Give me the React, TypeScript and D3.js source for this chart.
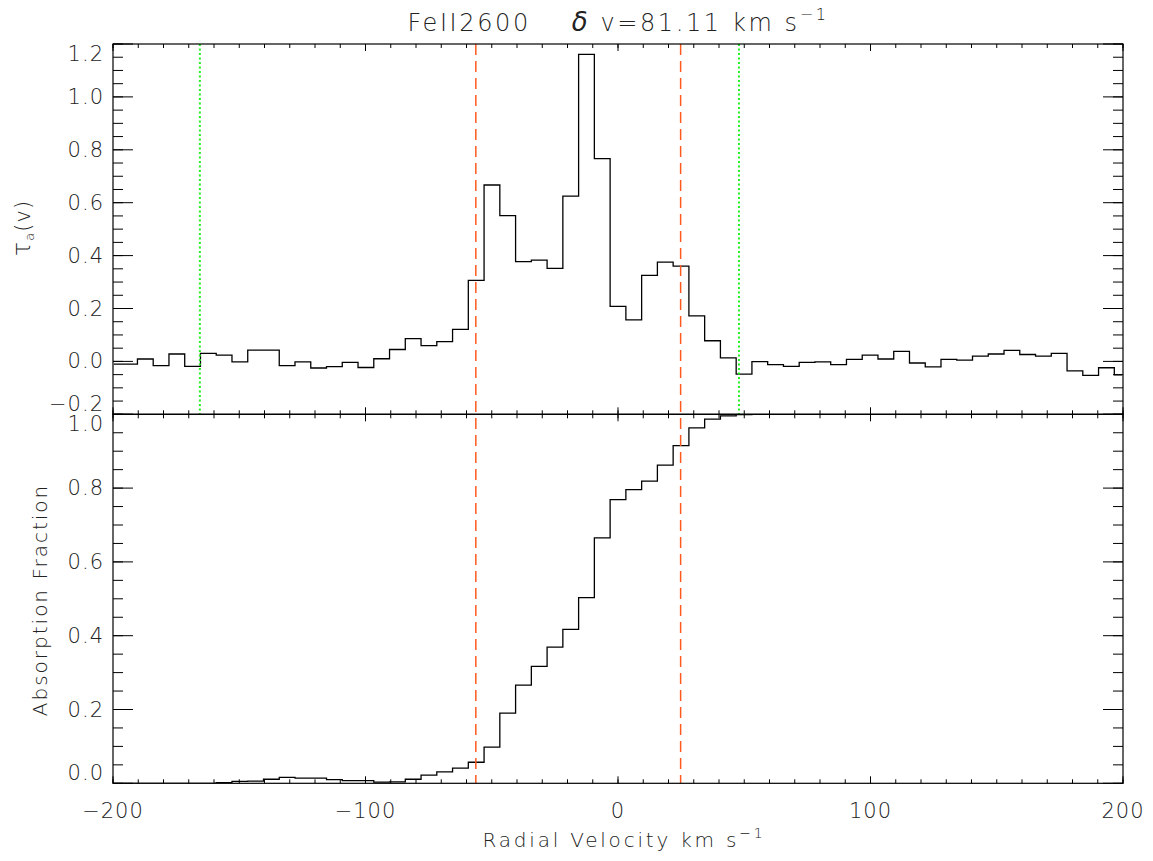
import React from "react";
import * as d3 from "d3";

// Velocity bin centres (km/s)
const velocity: number[] = [
  -199.68, -193.44, -187.2, -180.96, -174.72, -168.48, -162.24, -156.0, -149.76, -143.52,
  -137.28, -131.04, -124.8, -118.56, -112.32, -106.08, -99.84, -93.6, -87.36, -81.12,
  -74.88, -68.64, -62.4, -56.16, -49.92, -43.68, -37.44, -31.2, -24.96, -18.72,
  -12.48, -6.24, 0.0, 6.24, 12.48, 18.72, 24.96, 31.2, 37.44, 43.68,
  49.92, 56.16, 62.4, 68.64, 74.88, 81.12, 87.36, 93.6, 99.84, 106.08,
  112.32, 118.56, 124.8, 131.04, 137.28, 143.52, 149.76, 156.0, 162.24, 168.48,
  174.72, 180.96, 187.2, 193.44, 199.68,
];

// Apparent optical depth tau_a(v)
const tauValues: number[] = [
  -0.01, -0.01, 0.009, -0.016, 0.028, -0.019, 0.03, 0.024, -0.002, 0.043,
  0.043, -0.016, -0.002, -0.025, -0.02, -0.004, -0.023, 0.01, 0.045, 0.086,
  0.06, 0.075, 0.121, 0.306, 0.667, 0.551, 0.377, 0.383, 0.352, 0.625,
  1.161, 0.767, 0.208, 0.157, 0.325, 0.375, 0.36, 0.172, 0.078, 0.013,
  -0.048, -0.001, -0.012, -0.019, -0.004, -0.002, -0.012, 0.008, 0.024, 0.009,
  0.038, -0.006, -0.021, 0.008, 0.005, 0.02, 0.028, 0.042, 0.026, 0.02,
  0.03, -0.036, -0.053, -0.024, -0.051,
];

// Cumulative absorption fraction
const absFraction: number[] = [
  0, 0, 0, 0, 0, 0, 0, 0.002, 0.005, 0.006,
  0.011, 0.016, 0.014, 0.014, 0.01, 0.007, 0.007, 0.003, 0.004, 0.011,
  0.022, 0.031, 0.041, 0.057, 0.098, 0.19, 0.266, 0.317, 0.369, 0.417,
  0.503, 0.665, 0.769, 0.796, 0.819, 0.862, 0.915, 0.963, 0.987, 0.996,
  0.999, 1, 1, 1, 1, 1, 1, 1, 1, 1,
  1, 1, 1, 1, 1, 1, 1, 1, 1, 1,
  1, 1, 1, 1, 1,
];

const velLimits: number[] = [-56.31, 24.8]; // orange dashed
const intLimits: number[] = [-165.6, 47.9]; // green dotted

const xDomain: [number, number] = [-200, 200];
const topDomain: [number, number] = [-0.2, 1.2];
const botDomain: [number, number] = [0, 1];

const FONT = "'DejaVu Sans', 'Liberation Sans', sans-serif";
const TXT = "#222";

export default function App() {
  const W = 1153, H = 861;
  const left = 113, right = 1123, top = 44, mid = 414.3, bottom = 783.3;

  const x = d3.scaleLinear().domain(xDomain).range([left, right]);
  const yTop = d3.scaleLinear().domain(topDomain).range([mid, top]);
  const yBot = d3.scaleLinear().domain(botDomain).range([bottom, mid]);

  const pts = velocity.map((v, i) => ({ v, t: tauValues[i], a: absFraction[i] }));
  const lineTop = d3.line<any>().x(d => x(d.v)).y(d => yTop(d.t)).curve(d3.curveStep);
  const lineBot = d3.line<any>().x(d => x(d.v)).y(d => yBot(d.a)).curve(d3.curveStep);

  const xMajor = x.ticks(4);
  const xMinor = d3.range(-200, 200.001, 10);
  const fmt = d3.format(".1f");

  const yTicks = (scale: d3.ScaleLinear<number, number>, domain: [number, number], keyp: string) => {
    const major = d3.range(domain[0], domain[1] + 0.0001, 0.2);
    const minor = d3.range(domain[0], domain[1] + 0.0001, 0.05);
    const els: any[] = [];
    minor.forEach((m, i) => {
      const y = scale(m);
      els.push(<line key={keyp + "mnl" + i} x1={left} x2={left + 10} y1={y} y2={y} stroke="#000" strokeWidth={1} />);
      els.push(<line key={keyp + "mnr" + i} x1={right} x2={right - 10} y1={y} y2={y} stroke="#000" strokeWidth={1} />);
    });
    major.forEach((m, i) => {
      const y = scale(m);
      els.push(<line key={keyp + "mjl" + i} x1={left} x2={left + 20} y1={y} y2={y} stroke="#000" strokeWidth={1} />);
      els.push(<line key={keyp + "mjr" + i} x1={right} x2={right - 20} y1={y} y2={y} stroke="#000" strokeWidth={1} />);
      let dy = 0;
      if (i === major.length - 1) dy = 10;
      if (i === 0) dy = -10;
      els.push(
        <text key={keyp + "lab" + i} x={104} y={y + dy} textAnchor="end" dominantBaseline="central"
          fontFamily={FONT} fontSize={21} letterSpacing={1} fill={TXT} fontWeight={300}>
          {fmt(Math.abs(m) < 1e-9 ? 0 : m)}
        </text>
      );
    });
    return els;
  };

  const xTicks = (yEdge: number, dir: number, keyp: string) => {
    const els: any[] = [];
    xMinor.forEach((v, i) => {
      const xx = x(v);
      els.push(<line key={keyp + "mn" + i} x1={xx} x2={xx} y1={yEdge} y2={yEdge + dir * 4} stroke="#000" strokeWidth={1} />);
    });
    xMajor.forEach((v, i) => {
      const xx = x(v);
      els.push(<line key={keyp + "mj" + i} x1={xx} x2={xx} y1={yEdge} y2={yEdge + dir * 7} stroke="#000" strokeWidth={1} />);
    });
    return els;
  };

  return (
    <svg width={W} height={H} style={{ position: "absolute", left: 0, top: 0, background: "#fff" }}>
      <defs>
        <clipPath id="clipTop"><rect x={left} y={top} width={right - left} height={mid - top} /></clipPath>
        <clipPath id="clipBot"><rect x={left} y={mid} width={right - left} height={bottom - mid} /></clipPath>
      </defs>
      <rect x={0} y={0} width={W} height={H} fill="#fff" />

      {/* Title */}
      <text x={618} y={31} textAnchor="middle" fontFamily={FONT} fontSize={24} letterSpacing={2.6} fill={TXT} fontWeight={300}>
        <tspan>FeII2600</tspan>
        <tspan xmlSpace="preserve">{"    "}</tspan>
        <tspan fontStyle="italic" fontSize={26}>δ</tspan>
        <tspan> v=81.11 km s</tspan>
        <tspan fontSize={16} dy={-11}>−1</tspan>
      </text>

      {/* Histograms */}
      <path d={lineTop(pts) || ""} fill="none" stroke="#000" strokeWidth={1.3} clipPath="url(#clipTop)" />
      <path d={lineBot(pts) || ""} fill="none" stroke="#000" strokeWidth={1.3} clipPath="url(#clipBot)" />

      {/* Vertical markers */}
      {velLimits.map((v, i) => (
        <line key={"vl" + i} x1={x(v)} x2={x(v)} y1={top} y2={bottom} stroke="#ff5a1e" strokeWidth={1.5} strokeDasharray="11,6" />
      ))}
      {intLimits.map((v, i) => (
        <line key={"il" + i} x1={x(v)} x2={x(v)} y1={top} y2={mid} stroke="#22f022" strokeWidth={2} strokeDasharray="2,2.5" />
      ))}

      {/* Frames */}
      <rect x={left} y={top} width={right - left} height={mid - top} fill="none" stroke="#000" strokeWidth={1.2} />
      <rect x={left} y={mid} width={right - left} height={bottom - mid} fill="none" stroke="#000" strokeWidth={1.2} />

      {/* Ticks */}
      {xTicks(top, 1, "tt")}
      {xTicks(mid, -1, "tb")}
      {xTicks(mid, 1, "bt")}
      {xTicks(bottom, -1, "bb")}
      {yTicks(yTop, topDomain, "yt")}
      {yTicks(yBot, botDomain, "yb")}

      {/* X tick labels */}
      {xMajor.map((v, i) => (
        <text key={"xl" + i} x={x(v)} y={818} textAnchor="middle" fontFamily={FONT} fontSize={21} letterSpacing={1} fill={TXT} fontWeight={300}>
          {d3.format("d")(v)}
        </text>
      ))}

      {/* Axis titles */}
      <text x={624} y={847} textAnchor="middle" fontFamily={FONT} fontSize={20} letterSpacing={2.8} fill={TXT} fontWeight={300}>
        <tspan>Radial Velocity km s</tspan>
        <tspan fontSize={14} dy={-9}>−1</tspan>
      </text>
      <text transform="translate(30,228) rotate(-90)" textAnchor="middle" fontFamily={FONT} fontSize={21} letterSpacing={1} fill={TXT} fontWeight={300}>
        <tspan fontSize={24}>τ</tspan>
        <tspan fontSize={13} dy={4}>a</tspan>
        <tspan dy={-4}>(v)</tspan>
      </text>
      <text transform="translate(47,600) rotate(-90)" textAnchor="middle" fontFamily={FONT} fontSize={20} letterSpacing={2} fill={TXT} fontWeight={300}>
        Absorption Fraction
      </text>
    </svg>
  );
}
